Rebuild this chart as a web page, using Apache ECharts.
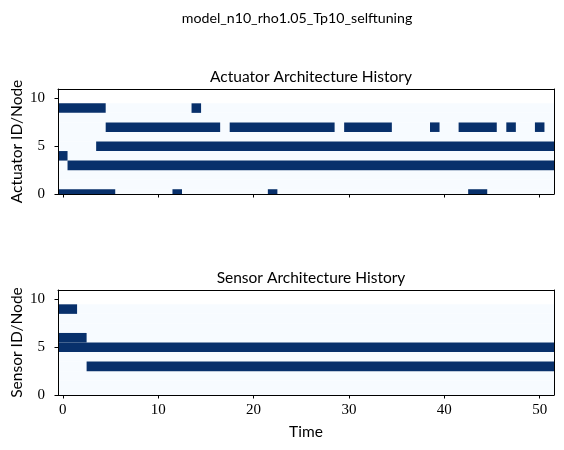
<!DOCTYPE html>
<html>
<head>
<meta charset="utf-8">
<script src="https://cdn.jsdelivr.net/npm/echarts@6/dist/echarts.min.js"></script>
<style>html,body{margin:0;padding:0;background:#fff}#c{width:564px;height:450px}</style>
</head>
<body>
<div id="c"></div>
<script>
// ---- data ----
const timeSteps = 52;          // time columns 0..51
const nodeCount = 10;          // node rows 0..9
const xTickValues = [0, 10, 20, 30, 40, 50];
const yTickValues = [0, 5, 10];
// active runs: [node, firstTime, lastTime]
const actuatorRuns = [
  [9, 0, 4], [9, 14, 14],
  [7, 5, 16], [7, 18, 28], [7, 30, 34], [7, 39, 39], [7, 42, 45], [7, 47, 47], [7, 50, 50],
  [5, 4, 51],
  [4, 0, 0],
  [3, 1, 51],
  [0, 0, 5], [0, 12, 12], [0, 22, 22], [0, 43, 44]
];
const sensorRuns = [
  [9, 0, 1],
  [6, 0, 2],
  [5, 0, 51],
  [3, 3, 51]
];
const suptitle = 'model_n10_rho1.05_Tp10_selftuning';
const titles = ['Actuator Architecture History', 'Sensor Architecture History'];
const yNames = ['Actuator ID/Node', 'Sensor ID/Node'];
const xName = 'Time';

// ---- style ----
const DARK = '#08306b', LIGHT = '#f7fbff';
const SANS = 'Lato, "Open Sans", sans-serif';
const SERIF = '"Liberation Serif", "DejaVu Serif", serif';

const chart = echarts.init(document.getElementById('c'), null, {renderer: 'canvas'});

function renderRun(params, api) {
  const row = api.value(0), t0 = api.value(1), t1 = api.value(2), on = api.value(3);
  const a = api.coord([t0 - 0.5, row + 0.5]);
  const b = api.coord([t1 + 0.5, row - 0.5]);
  const cs = params.coordSys;
  const rect = echarts.graphic.clipRectByRect(
    {x: a[0], y: a[1], width: b[0] - a[0], height: b[1] - a[1]},
    {x: cs.x, y: cs.y, width: cs.width, height: cs.height});
  if (!rect) return null;
  return {type: 'rect', shape: rect, style: {fill: on ? DARK : LIGHT}};
}

function buildData(runs) {
  // background: whole image extent, value 0
  const d = [];
  for (let r = 0; r < nodeCount; r++) d.push([r, 0, timeSteps - 1, 0]);
  runs.forEach(r => d.push([r[0], r[1], r[2], 1]));
  return d;
}

const grids = [
  {left: 58, right: 10, top: 89, height: 105, outerBoundsMode: 'none', containLabel: false},
  {left: 58, right: 10, top: 290, height: 105, outerBoundsMode: 'none', containLabel: false}
];

const xAxes = [], yAxes = [], series = [];
[actuatorRuns, sensorRuns].forEach((runs, i) => {
  xAxes.push({
    type: 'value', gridIndex: i, min: -0.5, max: timeSteps - 0.5, position: 'bottom', z: 5,
    name: i === 1 ? xName : '', nameLocation: 'middle', nameGap: 29, nameMoveOverlap: false,
    nameTextStyle: {fontFamily: SANS, fontSize: 15.5, color: '#000'},
    axisLine: {show: true, onZero: false, lineStyle: {color: '#000', width: 1}},
    axisTick: {show: true, customValues: xTickValues, length: 3.5, lineStyle: {color: '#000'}},
    axisLabel: {show: i === 1, customValues: xTickValues, margin: 8, fontFamily: SERIF, fontSize: 15, color: '#000'},
    splitLine: {show: false}
  });
  xAxes.push({
    type: 'value', gridIndex: i, min: -0.5, max: timeSteps - 0.5, position: 'top', z: 5,
    axisLine: {show: true, onZero: false, lineStyle: {color: '#000', width: 1}},
    axisTick: {show: false}, axisLabel: {show: false}, splitLine: {show: false}
  });
  yAxes.push({
    type: 'value', gridIndex: i, min: 0, max: 11, interval: 5, position: 'left', z: 5,
    name: yNames[i], nameLocation: 'middle', nameGap: 33, nameRotate: 90, nameMoveOverlap: false,
    nameTextStyle: {fontFamily: SANS, fontSize: 15.5, color: '#000'},
    axisLine: {show: true, onZero: false, lineStyle: {color: '#000', width: 1}},
    axisTick: {show: true, customValues: yTickValues, length: 3.5, lineStyle: {color: '#000'}},
    axisLabel: {customValues: yTickValues, margin: 13, fontFamily: SERIF, fontSize: 15, color: '#000'},
    splitLine: {show: false}
  });
  yAxes.push({
    type: 'value', gridIndex: i, min: 0, max: 11, position: 'right', z: 5,
    axisLine: {show: true, onZero: false, lineStyle: {color: '#000', width: 1}},
    axisTick: {show: false}, axisLabel: {show: false}, splitLine: {show: false}
  });
  series.push({
    type: 'custom', xAxisIndex: i * 2, yAxisIndex: i * 2, z: 1,
    renderItem: renderRun, data: buildData(runs), silent: true
  });
});

chart.setOption({
  animation: false,
  backgroundColor: '#fff',
  title: [
    {text: suptitle, left: 292, top: 6, textAlign: 'center', textStyle: {fontFamily: SANS, fontSize: 14.2, fontWeight: 'normal', color: '#000'}},
    {text: titles[0], left: 306, top: 64, textAlign: 'center', textStyle: {fontFamily: SANS, fontSize: 15.5, fontWeight: 'normal', color: '#000'}},
    {text: titles[1], left: 306, top: 265, textAlign: 'center', textStyle: {fontFamily: SANS, fontSize: 15.5, fontWeight: 'normal', color: '#000'}}
  ],
  grid: grids,
  xAxis: xAxes,
  yAxis: yAxes,
  series: series
});
</script>
</body>
</html>
